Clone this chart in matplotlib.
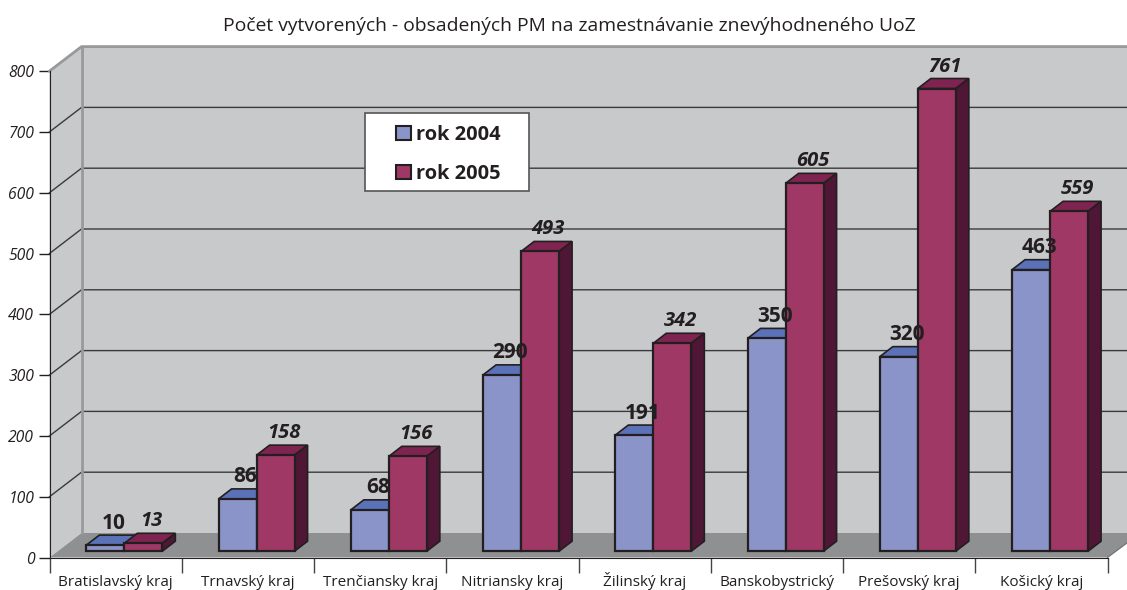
import matplotlib
matplotlib.use('Agg')
import matplotlib.pyplot as plt
from matplotlib.patches import Polygon, Patch, Rectangle

plt.rcParams['font.family'] = ['Open Sans', 'DejaVu Sans']

kraje = ['Bratislavský kraj', 'Trnavský kraj', 'Trenčiansky kraj', 'Nitriansky kraj',
         'Žilinský kraj', 'Banskobystrický', 'Prešovský kraj', 'Košický kraj']
rok2004 = [10, 86, 68, 290, 191, 350, 320, 463]
rok2005 = [13, 158, 156, 493, 342, 605, 761, 559]
y_ticks = [0, 100, 200, 300, 400, 500, 600, 700, 800]

W, H = 1127, 590
px_x = 132.25      # pixels per category
px_y = 0.608       # pixels per unit of value
x0_px, y0_px = 49.5, 557.5


def dx(px):
    return px / px_x


def dy(px):
    return px / px_y


DEPTH_X, DEPTH_Y = dx(32), dy(24.5)
BAR_W = dx(38)
BAR_SHIFT = dx(8.7)
BASE = dy(6.3)
TOP_X, TOP_Y = dx(13), dy(10)

BLUE = ('#8B94C8', '#5B72B8')
RED = ('#A03866', '#7F2450', '#4F1635')
EDGE = '#231F20'

fig = plt.figure(figsize=(W / 100, H / 100), dpi=100)
ax = fig.add_axes([0, 0, 1, 1])
ax.set_xlim(-dx(x0_px), dx(W - x0_px))
ax.set_ylim(-dy(H - y0_px), dy(y0_px))
ax.patch.set_visible(False)

# walls and floor
right = dx(W - x0_px)
ax.add_patch(Polygon([(0, 0), (DEPTH_X, DEPTH_Y), (DEPTH_X, 800 + DEPTH_Y), (0, 800)],
                     fc='#C8C9CB', ec='none', zorder=1))
ax.add_patch(Polygon([(DEPTH_X, DEPTH_Y), (right, DEPTH_Y), (right, 800 + DEPTH_Y), (DEPTH_X, 800 + DEPTH_Y)],
                     fc='#C8C9CB', ec='none', zorder=1))
ax.add_patch(Polygon([(0, 0), (DEPTH_X, DEPTH_Y), (right, DEPTH_Y), (right, dy(14.5)), (8, 0)],
                     fc='#8F9092', ec='none', zorder=1))
for v in y_ticks[1:-1]:
    ax.plot([0, DEPTH_X, right], [v, v + DEPTH_Y, v + DEPTH_Y], color='#3A3A3C', lw=1, zorder=2)
ax.plot([0, DEPTH_X, right], [800, 800 + DEPTH_Y, 800 + DEPTH_Y], color='#98999B', lw=2, zorder=2)
ax.plot([DEPTH_X, DEPTH_X], [DEPTH_Y, 800 + DEPTH_Y], color='#98999B', lw=2, zorder=2)
ax.plot([8, right], [0, dy(14.5)], color='#6D6E70', lw=0.8, zorder=2)

# bars, front face from ax.bar, top and side faces as polygons
for i in range(len(kraje)):
    left = i + 0.5 + BAR_SHIFT
    for x, val, top in [(left - BAR_W, rok2004[i], BLUE[1]), (left, rok2005[i], RED[1])]:
        t = BASE + val
        ax.add_patch(Polygon([(x, t), (x + TOP_X, t + TOP_Y), (x + BAR_W + TOP_X, t + TOP_Y), (x + BAR_W, t)],
                             fc=top, ec=EDGE, lw=1.2, zorder=3 + i))
    x = left
    t = BASE + rok2005[i]
    ax.add_patch(Polygon([(x + BAR_W, BASE), (x + BAR_W + TOP_X, BASE + TOP_Y),
                          (x + BAR_W + TOP_X, t + TOP_Y), (x + BAR_W, t)],
                         fc=RED[2], ec=EDGE, lw=1.2, zorder=3 + i))
    ax.bar(left - BAR_W, rok2004[i], BAR_W, bottom=BASE, align='edge',
           color=BLUE[0], edgecolor=EDGE, lw=1.6, zorder=3.5 + i)
    ax.bar(left, rok2005[i], BAR_W, bottom=BASE, align='edge',
           color=RED[0], edgecolor=EDGE, lw=1.6, zorder=3.6 + i)
    ax.text(left - BAR_W / 2 + dx(8), BASE + rok2004[i] + dy(22), str(rok2004[i]), ha='center', va='center',
            fontsize=15, fontweight='bold', color=EDGE, zorder=30)
    ax.text(left + BAR_W / 2 + dx(8), BASE + rok2005[i] + dy(22), str(rok2005[i]), ha='center', va='center',
            fontsize=14.5, fontweight='bold', fontstyle='italic', color=EDGE, zorder=30)

# axes
for s in ['top', 'right']:
    ax.spines[s].set_visible(False)
ax.spines['left'].set_position(('data', 0))
ax.spines['bottom'].set_position(('data', 0))
ax.spines['left'].set_bounds(0, 800)
ax.spines['bottom'].set_bounds(0, 8)
ax.spines['left'].set_zorder(2.5)
ax.spines['bottom'].set_zorder(2.5)
ax.spines['left'].set_color(EDGE)
ax.spines['bottom'].set_color(EDGE)
ax.set_yticks(y_ticks)
ax.set_yticklabels([str(v) for v in y_ticks], fontstyle='italic', fontsize=11.3, color=EDGE)
ax.tick_params(axis='y', length=8, width=1, color=EDGE, pad=3)
ax.set_xticks(range(len(kraje) + 1))
ax.set_xticklabels([])
ax.tick_params(axis='x', which='major', length=11, width=1, color='#444446')
ax.set_xticks([i + 0.5 for i in range(len(kraje))], minor=True)
ax.set_xticklabels(kraje, minor=True, fontsize=11, color=EDGE, va='baseline')
ax.tick_params(axis='x', which='minor', length=0, pad=20.5)

ax.text(dx(569.5 - x0_px), dy(y0_px - 26), 'Počet vytvorených - obsadených PM na zamestnávanie znevýhodneného UoZ',
        ha='center', va='center', fontsize=13.9, color=EDGE)

# legend box
ax.add_patch(Rectangle((dx(365 - x0_px), dy(y0_px - 191)), dx(164), dy(78),
                       fc='white', ec='#555557', lw=1.2, zorder=39))
handles = [Patch(fc=BLUE[0], ec=EDGE, lw=1.5, label='rok 2004'),
           Patch(fc=RED[0], ec=EDGE, lw=1.5, label='rok 2005')]
leg = ax.legend(handles=handles, loc='upper left', bbox_to_anchor=(396 / W, 1 - 125 / H),
                prop={'weight': 'bold', 'size': 14.4}, frameon=False,
                handlelength=0.75, handleheight=0.75, handletextpad=0.25,
                labelspacing=0.95, borderpad=0, borderaxespad=0, labelcolor=EDGE)
leg.set_zorder(40)

fig.savefig('out.png', dpi=100)
